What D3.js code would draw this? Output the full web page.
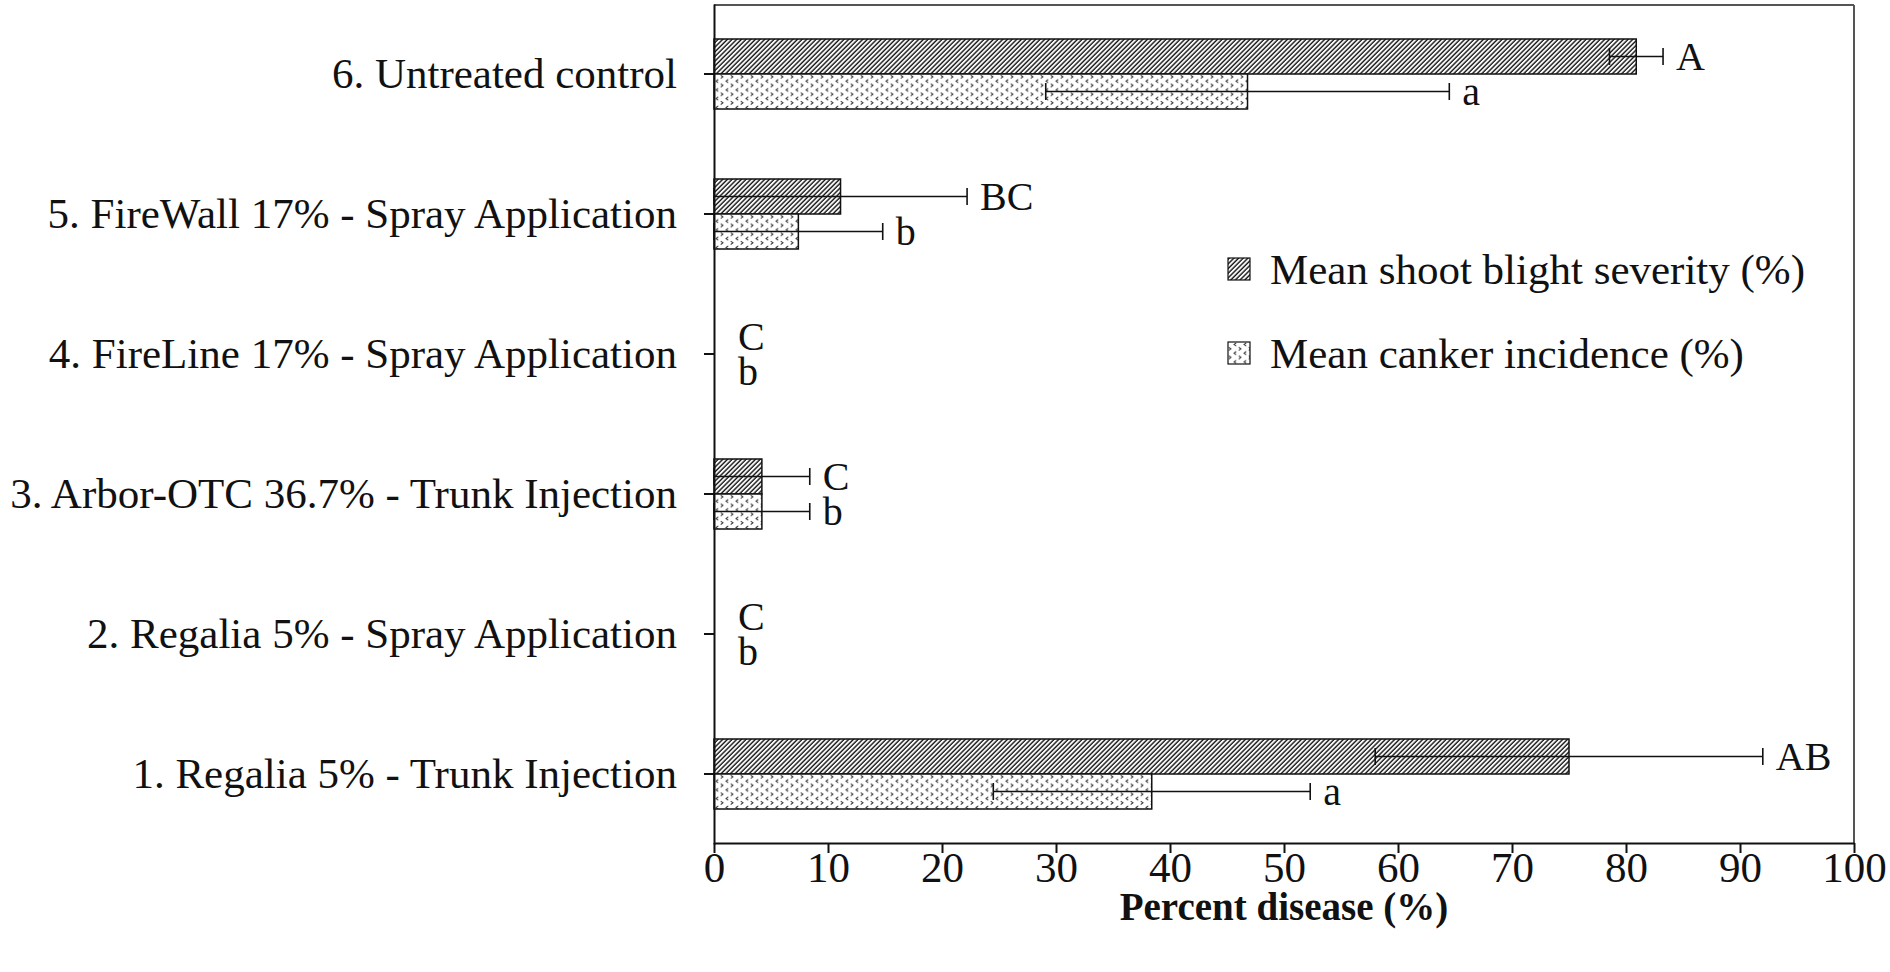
<!DOCTYPE html>
<html>
<head>
<meta charset="utf-8">
<script src="https://cdn.jsdelivr.net/npm/d3@7"></script>
<style>
  body { margin: 0; background: #fff; }
  svg text { font-family: "Liberation Serif", "Times New Roman", serif; fill: #111; }
</style>
</head>
<body>
<svg id="chart" width="1890" height="972"></svg>
<script>
// treatments, top to bottom as drawn
const categories = [
  "6. Untreated control",
  "5. FireWall 17% - Spray Application",
  "4. FireLine 17% - Spray Application",
  "3. Arbor-OTC 36.7% - Trunk Injection",
  "2. Regalia 5% - Spray Application",
  "1. Regalia 5% - Trunk Injection"
];
const shootMean = [80.9, 11.1, 0, 4.2, 0, 75.0];
const shootSE = [2.35, 11.1, 0, 4.2, 0, 17.0];
const shootLetters = ["A", "BC", "C", "C", "C", "AB"];
const cankerMean = [46.8, 7.4, 0, 4.2, 0, 38.4];
const cankerSE = [17.7, 7.4, 0, 4.2, 0, 13.9];
const cankerLetters = ["a", "b", "b", "b", "b", "a"];
const seriesNames = ["Mean shoot blight severity (%)", "Mean canker incidence (%)"];
const xTicks = [0, 10, 20, 30, 40, 50, 60, 70, 80, 90, 100];

const svg = d3.select("#chart");
const plotLeft = 714, plotRight = 1854, plotTop = 4, plotBottom = 843;

// patterns
const defs = svg.append("defs");
const hatch = defs.append("pattern")
  .attr("id", "hatch")
  .attr("patternUnits", "userSpaceOnUse")
  .attr("width", 3.3).attr("height", 10)
  .attr("patternTransform", "rotate(45)");
hatch.append("rect").attr("width", 3.3).attr("height", 10).attr("fill", "#fff");
hatch.append("line")
  .attr("x1", 1).attr("x2", 1).attr("y1", 0).attr("y2", 10)
  .attr("stroke", "#111").attr("stroke-width", 1.4);

const dots = defs.append("pattern")
  .attr("id", "dots")
  .attr("patternUnits", "userSpaceOnUse")
  .attr("width", 10).attr("height", 17.5)
  .attr("x", plotLeft).attr("y", 0);
dots.append("rect").attr("width", 10).attr("height", 17.5).attr("fill", "#fff");
const rowsY = [2.4, 6.8, 11.1, 15.4];
rowsY.forEach(function(yy, i) {
  var cx = i % 2 == 0 ? 3 : 8;
  var d = i % 2 == 0
    ? "M" + (cx + 1.3) + "," + (yy - 1.6) + " L" + (cx - 1) + "," + yy + " L" + (cx + 1.3) + "," + (yy + 1.6)
    : "M" + (cx - 1.3) + "," + (yy - 1.6) + " L" + (cx + 1) + "," + yy + " L" + (cx - 1.3) + "," + (yy + 1.6);
  dots.append("path").attr("d", d)
    .attr("fill", "none").attr("stroke", "#333").attr("stroke-width", 1);
});

// scales
const x = d3.scaleLinear().domain([0, 100]).range([plotLeft, plotRight]);
const y = d3.scaleBand().domain(categories).range([plotTop, plotBottom + 1]).padding(0);
const sub = d3.scaleBand().domain(["shoot", "canker"]).range([0, y.bandwidth()])
  .paddingInner(0).paddingOuter(1);

// build rows from the arrays
let rows = [];
for (var i = 0; i < categories.length; i++) {
  rows.push({cat: categories[i], key: "shoot", mean: shootMean[i], se: shootSE[i], letter: shootLetters[i], fill: "url(#hatch)"});
  rows.push({cat: categories[i], key: "canker", mean: cankerMean[i], se: cankerSE[i], letter: cankerLetters[i], fill: "url(#dots)"});
}
const barY = d => y(d.cat) + sub(d.key);
const midY = d => barY(d) + sub.bandwidth() / 2;

// frame top and right
svg.append("line").attr("x1", plotLeft).attr("x2", plotRight).attr("y1", plotTop + 1).attr("y2", plotTop + 1)
  .attr("stroke", "#555").attr("stroke-width", 2);
svg.append("line").attr("x1", plotRight).attr("x2", plotRight).attr("y1", plotTop + 1).attr("y2", plotBottom)
  .attr("stroke", "#555").attr("stroke-width", 2);

// bars
svg.append("g").selectAll("rect")
  .data(rows.filter(d => d.mean > 0))
  .enter()
  .append("rect")
  .attr("x", x(0))
  .attr("y", barY)
  .attr("width", d => x(d.mean) - x(0))
  .attr("height", sub.bandwidth())
  .attr("fill", d => d.fill)
  .attr("stroke", "#111")
  .attr("stroke-width", 1.5);

// error bars
const err = svg.append("g").selectAll("g")
  .data(rows.filter(d => d.se > 0))
  .enter().append("g")
  .attr("stroke", "#111").attr("stroke-width", 1.6);
err.append("line")
  .attr("x1", d => x(d.mean - d.se)).attr("x2", d => x(d.mean + d.se))
  .attr("y1", midY).attr("y2", midY);
err.append("line")
  .attr("x1", d => x(d.mean - d.se)).attr("x2", d => x(d.mean - d.se))
  .attr("y1", d => midY(d) - 8.5).attr("y2", d => midY(d) + 8.5);
err.append("line")
  .attr("x1", d => x(d.mean + d.se)).attr("x2", d => x(d.mean + d.se))
  .attr("y1", d => midY(d) - 8.5).attr("y2", d => midY(d) + 8.5);

// significance letters
svg.append("g").selectAll("text")
  .data(rows)
  .enter().append("text")
  .attr("x", d => d.se > 0 ? x(d.mean + d.se) + 13 : x(0) + 24)
  .attr("y", d => midY(d) + 13)
  .attr("font-size", 40)
  .text(d => d.letter);

// axes
const xAxis = svg.append("g")
  .attr("transform", "translate(0," + plotBottom + ")")
  .call(d3.axisBottom(x).tickValues(xTicks).tickSize(10).tickPadding(-2).tickSizeOuter(0));
xAxis.selectAll("text").attr("font-size", 43).attr("fill", "#111");
xAxis.selectAll("line, path").attr("stroke", "#111").attr("stroke-width", 2);

const yAxis = svg.append("g")
  .attr("transform", "translate(" + plotLeft + ",0)")
  .call(d3.axisLeft(y).tickSize(10).tickPadding(27).tickSizeOuter(0));
yAxis.selectAll("text").attr("font-size", 43).attr("fill", "#111");
yAxis.selectAll("line, path").attr("stroke", "#111").attr("stroke-width", 2);

// axis title
svg.append("text")
  .attr("x", (plotLeft + plotRight) / 2)
  .attr("y", 920)
  .attr("text-anchor", "middle")
  .attr("font-size", 39)
  .attr("font-weight", "bold")
  .text("Percent disease (%)");

// legend
const legend = svg.append("g").selectAll("g")
  .data(seriesNames)
  .enter().append("g")
  .attr("transform", (d, i) => "translate(1228," + (258 + i * 84) + ")");
legend.append("rect")
  .attr("width", 22).attr("height", 22)
  .attr("fill", (d, i) => i == 0 ? "url(#hatch)" : "url(#dots)")
  .attr("stroke", "#111").attr("stroke-width", 1.2);
legend.append("text")
  .attr("x", 42).attr("y", 26)
  .attr("font-size", 43)
  .text(d => d);
</script>
</body>
</html>
